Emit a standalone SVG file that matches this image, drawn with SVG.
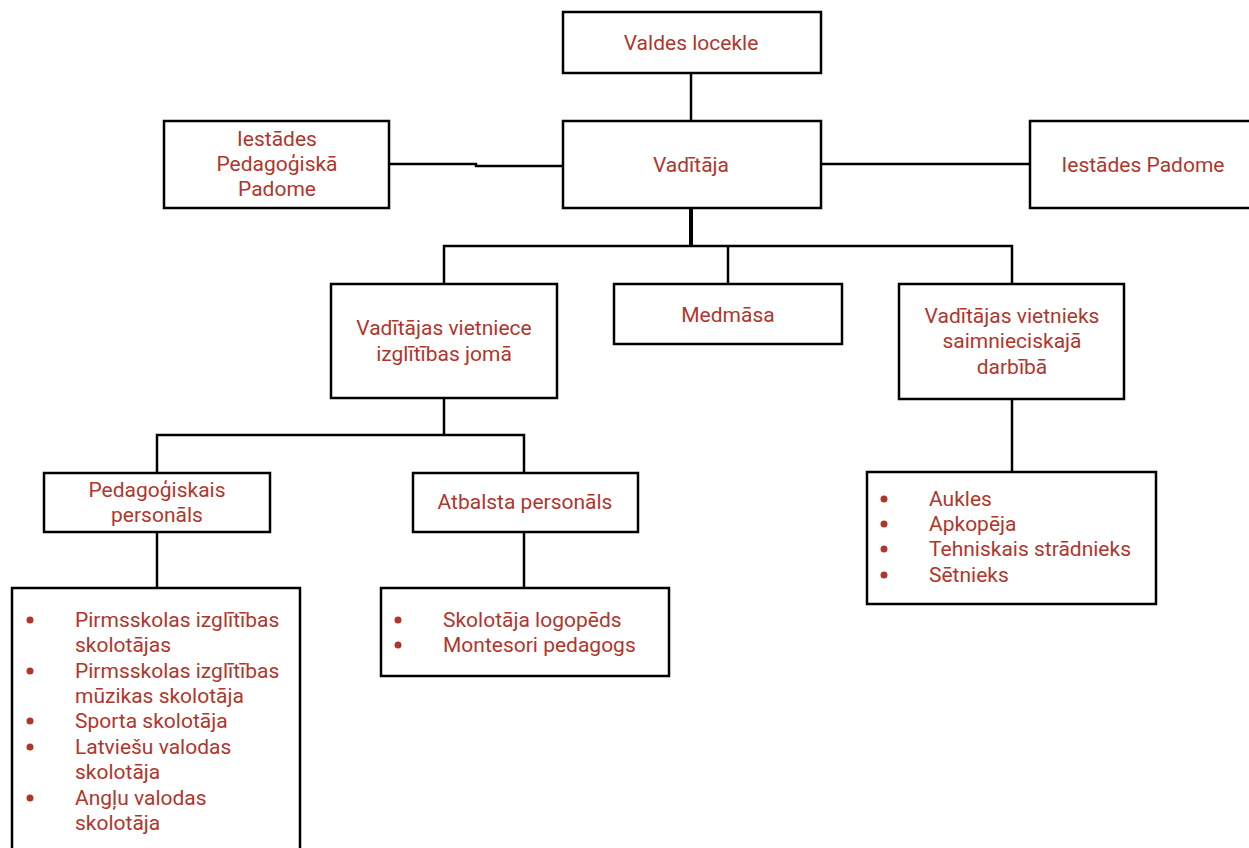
<svg xmlns="http://www.w3.org/2000/svg" width="1249" height="848" viewBox="0 0 1249 848">
<style>
.box{fill:#fff;stroke:#000;stroke-width:2.5}
.t{font-family:Roboto,"Liberation Sans",sans-serif;font-size:21px;fill:#b0362c;dominant-baseline:central}
.c{text-anchor:middle}
.ln{fill:none;stroke:#000;stroke-width:2.5}
.b{fill:#b0362c}
</style>
<rect width="1249" height="848" fill="#fff"/>
<g id="connectors">
<path class="ln" d="M691 73V121"/>
<path class="ln" d="M389 164H476V166H563"/>
<path class="ln" d="M821 164H1030"/>
<path class="ln" d="M691 208V246" style="stroke-width:4"/>
<path class="ln" d="M444 284V246H1012V284"/>
<path class="ln" d="M728 246V284"/>
<path class="ln" d="M444 398V435"/>
<path class="ln" d="M157 473V435H524V473"/>
<path class="ln" d="M157 532V588"/>
<path class="ln" d="M524 532V588"/>
<path class="ln" d="M1012 399V472"/>
</g>
<g id="valdes">
<rect class="box" x="563" y="12" width="258" height="61"/>
<text class="t c" x="691" y="43">Valdes locekle</text>
</g>
<g id="vaditaja">
<rect class="box" x="563" y="121" width="258" height="87"/>
<text class="t c" x="691" y="165">Vadītāja</text>
</g>
<g id="ped-padome">
<rect class="box" x="164" y="121" width="225" height="87"/>
<text class="t c" x="277" y="139">Iestādes</text>
<text class="t c" x="277" y="164">Pedagoģiskā</text>
<text class="t c" x="277" y="189">Padome</text>
</g>
<g id="padome">
<rect class="box" x="1030" y="121" width="225" height="87"/>
<text class="t c" x="1143" y="165">Iestādes Padome</text>
</g>
<g id="vietniece">
<rect class="box" x="331" y="284" width="226" height="114"/>
<text class="t c" x="444" y="328">Vadītājas vietniece</text>
<text class="t c" x="444" y="354">izglītības jomā</text>
</g>
<g id="medmasa">
<rect class="box" x="614" y="284" width="228" height="60"/>
<text class="t c" x="728" y="315">Medmāsa</text>
</g>
<g id="vietnieks">
<rect class="box" x="899" y="284" width="225" height="115"/>
<text class="t c" x="1012" y="316">Vadītājas vietnieks</text>
<text class="t c" x="1012" y="341">saimnieciskajā</text>
<text class="t c" x="1012" y="367">darbībā</text>
</g>
<g id="pedagogiskais">
<rect class="box" x="44" y="473" width="226" height="59"/>
<text class="t c" x="157" y="490">Pedagoģiskais</text>
<text class="t c" x="157" y="515">personāls</text>
</g>
<g id="atbalsta">
<rect class="box" x="413" y="473" width="225" height="59"/>
<text class="t c" x="525" y="502">Atbalsta personāls</text>
</g>
<g id="ped-list">
<rect class="box" x="12" y="588" width="288" height="270"/>
<circle class="b" cx="30" cy="620" r="3.5"/>
<circle class="b" cx="30" cy="671" r="3.5"/>
<circle class="b" cx="30" cy="721" r="3.5"/>
<circle class="b" cx="30" cy="747" r="3.5"/>
<circle class="b" cx="30" cy="798" r="3.5"/>
<text class="t" x="75" y="620">Pirmsskolas izglītības</text>
<text class="t" x="75" y="645">skolotājas</text>
<text class="t" x="75" y="671">Pirmsskolas izglītības</text>
<text class="t" x="75" y="696">mūzikas skolotāja</text>
<text class="t" x="75" y="721">Sporta skolotāja</text>
<text class="t" x="75" y="747">Latviešu valodas</text>
<text class="t" x="75" y="772">skolotāja</text>
<text class="t" x="75" y="798">Angļu valodas</text>
<text class="t" x="75" y="823">skolotāja</text>
</g>
<g id="atb-list">
<rect class="box" x="381" y="588" width="288" height="88"/>
<circle class="b" cx="398" cy="620" r="3.5"/>
<circle class="b" cx="398" cy="645" r="3.5"/>
<text class="t" x="443" y="620">Skolotāja logopēds</text>
<text class="t" x="443" y="645">Montesori pedagogs</text>
</g>
<g id="saim-list">
<rect class="box" x="867" y="472" width="289" height="132"/>
<circle class="b" cx="884" cy="499" r="3.5"/>
<circle class="b" cx="884" cy="524" r="3.5"/>
<circle class="b" cx="884" cy="549" r="3.5"/>
<circle class="b" cx="884" cy="575" r="3.5"/>
<text class="t" x="929" y="499">Aukles</text>
<text class="t" x="929" y="524">Apkopēja</text>
<text class="t" x="929" y="549">Tehniskais strādnieks</text>
<text class="t" x="929" y="575">Sētnieks</text>
</g>
</svg>
